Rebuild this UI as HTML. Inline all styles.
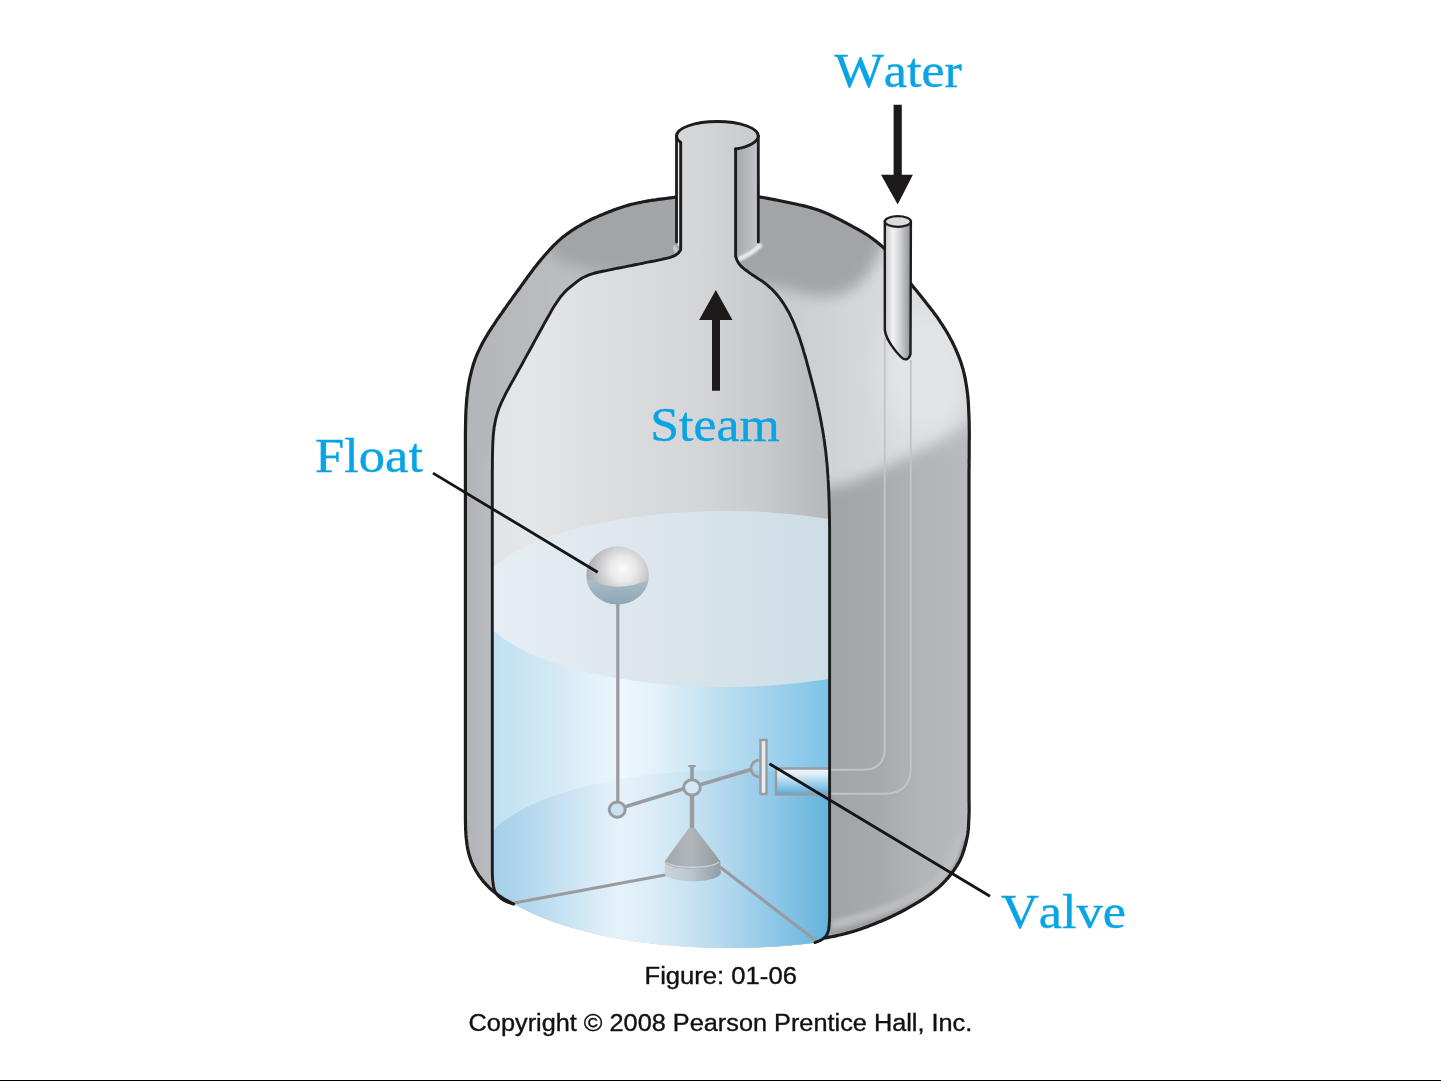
<!DOCTYPE html>
<html><head><meta charset="utf-8"><title>Figure 01-06</title>
<style>
html,body{margin:0;padding:0;background:#fff;}
body{width:1441px;height:1081px;overflow:hidden;position:relative;}
svg{position:absolute;left:0;top:0;will-change:transform;}
.lbl{font-family:"Liberation Serif",serif;font-kerning:none;fill:#08a4e4;stroke:#08a4e4;stroke-width:0.35px;}
.cap{font-family:"Liberation Sans",sans-serif;fill:#111;stroke:#111;stroke-width:0.35px;}
</style></head><body>
<svg width="1441" height="1081" viewBox="0 0 1441 1081">
<defs>
  <linearGradient id="gExt" x1="465" y1="0" x2="970" y2="0" gradientUnits="userSpaceOnUse">
    <stop offset="0" stop-color="#b2b3b7"/>
    <stop offset="0.04" stop-color="#b8b9bd"/>
    <stop offset="0.06" stop-color="#bcbdc0"/>
    <stop offset="0.5" stop-color="#b0b1b5"/>
    <stop offset="0.72" stop-color="#a2a3a7"/>
    <stop offset="0.82" stop-color="#a8a9ad"/>
    <stop offset="0.9" stop-color="#b3b4b8"/>
    <stop offset="1" stop-color="#b9babe"/>
  </linearGradient>
    <linearGradient id="gInt" x1="492" y1="0" x2="829" y2="0" gradientUnits="userSpaceOnUse">
    <stop offset="0" stop-color="#e2e3e5"/>
    <stop offset="0.1" stop-color="#e5e6e8"/>
    <stop offset="0.35" stop-color="#dcdddf"/>
    <stop offset="0.6" stop-color="#d5d6d8"/>
    <stop offset="0.8" stop-color="#c9cacd"/>
    <stop offset="0.9" stop-color="#c0c1c4"/>
    <stop offset="1" stop-color="#b6b7ba"/>
  </linearGradient>
  <linearGradient id="gSurf" x1="492" y1="0" x2="829" y2="0" gradientUnits="userSpaceOnUse">
    <stop offset="0" stop-color="#e6eef3"/>
    <stop offset="0.5" stop-color="#dbe5eb"/>
    <stop offset="1" stop-color="#cddde6"/>
  </linearGradient>
  <linearGradient id="gWater" x1="492" y1="0" x2="829" y2="0" gradientUnits="userSpaceOnUse">
    <stop offset="0" stop-color="#bfe0f2"/>
    <stop offset="0.2" stop-color="#d5eaf6"/>
    <stop offset="0.39" stop-color="#eef7fc"/>
    <stop offset="0.49" stop-color="#e2f1f9"/>
    <stop offset="0.7" stop-color="#b8dcf0"/>
    <stop offset="0.84" stop-color="#9ed1ec"/>
    <stop offset="1" stop-color="#7cc3e6"/>
  </linearGradient>
  <linearGradient id="gFloor" x1="492" y1="0" x2="829" y2="0" gradientUnits="userSpaceOnUse">
    <stop offset="0" stop-color="#a4cee9"/>
    <stop offset="0.15" stop-color="#bcdcef"/>
    <stop offset="0.38" stop-color="#e6f2fa"/>
    <stop offset="0.5" stop-color="#d7ebf6"/>
    <stop offset="0.7" stop-color="#b1d7ed"/>
    <stop offset="0.85" stop-color="#8bc6e6"/>
    <stop offset="1" stop-color="#63b3dc"/>
  </linearGradient>
  <linearGradient id="gPipeR" x1="735" y1="0" x2="759" y2="0" gradientUnits="userSpaceOnUse">
    <stop offset="0" stop-color="#a6a7ab"/>
    <stop offset="0.5" stop-color="#b5b6b9"/>
    <stop offset="1" stop-color="#c6c7ca"/>
  </linearGradient>
  <linearGradient id="gWP" x1="885" y1="0" x2="911" y2="0" gradientUnits="userSpaceOnUse">
    <stop offset="0" stop-color="#c4c5c8"/>
    <stop offset="0.3" stop-color="#f2f2f3"/>
    <stop offset="0.6" stop-color="#cfd0d2"/>
    <stop offset="1" stop-color="#8d8e92"/>
  </linearGradient>
  <radialGradient id="gBall" cx="623" cy="569" r="36" gradientUnits="userSpaceOnUse">
    <stop offset="0" stop-color="#fafafa"/>
    <stop offset="0.35" stop-color="#e9e9ea"/>
    <stop offset="1" stop-color="#a9aaad"/>
  </radialGradient>
  <linearGradient id="gBallB" x1="0" y1="580" x2="0" y2="604" gradientUnits="userSpaceOnUse">
    <stop offset="0" stop-color="#a9bdca"/>
    <stop offset="1" stop-color="#8fa6b4"/>
  </linearGradient>
  <linearGradient id="gCone" x1="665" y1="0" x2="720" y2="0" gradientUnits="userSpaceOnUse">
    <stop offset="0" stop-color="#a2a7ac"/>
    <stop offset="0.45" stop-color="#b1b6bb"/>
    <stop offset="1" stop-color="#959aa0"/>
  </linearGradient>
  <linearGradient id="gBase" x1="665" y1="0" x2="720" y2="0" gradientUnits="userSpaceOnUse">
    <stop offset="0" stop-color="#c9d4da"/>
    <stop offset="0.45" stop-color="#bcc7ce"/>
    <stop offset="1" stop-color="#929da5"/>
  </linearGradient>
  <linearGradient id="gStub" x1="0" y1="768" x2="0" y2="795" gradientUnits="userSpaceOnUse">
    <stop offset="0" stop-color="#f6fafd"/>
    <stop offset="0.25" stop-color="#d8ecf7"/>
    <stop offset="0.65" stop-color="#94c9e7"/>
    <stop offset="1" stop-color="#52a9d7"/>
  </linearGradient>
  <linearGradient id="gDomeL" x1="465" y1="0" x2="970" y2="0" gradientUnits="userSpaceOnUse">
    <stop offset="0" stop-color="#b4b5b8"/>
    <stop offset="0.15" stop-color="#babbbe"/>
    <stop offset="0.62" stop-color="#cacbce"/>
    <stop offset="0.75" stop-color="#d3d4d6"/>
    <stop offset="0.88" stop-color="#dcdddf"/>
    <stop offset="0.95" stop-color="#dbdcde"/>
    <stop offset="1" stop-color="#cdced1"/>
  </linearGradient>
  <filter id="fb6" x="-20%" y="-20%" width="140%" height="140%"><feGaussianBlur stdDeviation="7"/></filter>
  <filter id="fb8" x="-20%" y="-20%" width="140%" height="140%"><feGaussianBlur stdDeviation="7"/></filter>
  <filter id="fb12" x="-50%" y="-50%" width="200%" height="200%"><feGaussianBlur stdDeviation="14"/></filter>
  <filter id="fb9" x="-20%" y="-20%" width="140%" height="140%"><feGaussianBlur stdDeviation="10"/></filter>
  <filter id="fb1" x="-20%" y="-20%" width="140%" height="140%"><feGaussianBlur stdDeviation="1"/></filter>
  <filter id="fb2" x="-20%" y="-20%" width="140%" height="140%"><feGaussianBlur stdDeviation="2"/></filter>
  <clipPath id="cpWin"><path d="M680.7 142.4 L680.7 249.8 L679.7 251.2 L678.7 252.6 L677.5 253.8 L675.9 254.9 L674.1 255.9 L672.1 256.7 L670.3 257.3 L668.3 257.9 L666.2 258.4 L664.0 258.8 L661.7 259.4 L659.6 259.8 L657.4 260.3 L655.1 260.8 L652.7 261.3 L650.3 261.7 L647.9 262.2 L645.5 262.7 L643.2 263.2 L641.0 263.6 L638.7 264.1 L636.3 264.5 L634.0 265.0 L631.7 265.5 L629.3 265.9 L627.0 266.4 L624.7 266.9 L622.3 267.3 L620.0 267.8 L617.6 268.2 L615.3 268.7 L613.0 269.2 L610.7 269.6 L608.5 270.1 L606.2 270.6 L603.9 271.0 L601.6 271.5 L599.3 272.0 L597.1 272.5 L595.0 273.0 L593.0 273.6 L590.6 274.4 L588.4 275.2 L586.3 276.1 L584.2 277.0 L582.2 278.1 L580.2 279.3 L578.3 280.7 L576.4 282.1 L574.5 283.6 L572.6 285.1 L570.8 286.6 L569.0 288.1 L567.2 289.6 L565.5 291.3 L563.9 293.0 L562.5 294.6 L561.1 296.2 L559.8 297.9 L558.6 299.6 L557.3 301.5 L556.0 303.4 L554.8 305.3 L553.5 307.3 L552.3 309.3 L551.1 311.4 L549.9 313.6 L548.7 315.8 L547.4 318.0 L546.2 320.2 L545.0 322.3 L543.8 324.4 L542.7 326.5 L541.5 328.7 L540.3 330.8 L539.1 333.0 L537.9 335.2 L536.7 337.3 L535.6 339.4 L534.5 341.4 L533.4 343.5 L532.3 345.5 L531.2 347.5 L530.1 349.5 L529.0 351.4 L527.9 353.4 L526.8 355.4 L525.7 357.4 L524.6 359.4 L523.5 361.5 L522.4 363.5 L521.3 365.5 L520.2 367.5 L519.0 369.5 L517.9 371.5 L516.8 373.6 L515.7 375.6 L514.5 377.7 L513.3 379.9 L512.0 382.1 L510.8 384.3 L509.6 386.5 L508.4 388.7 L507.2 390.8 L506.1 392.9 L505.0 395.2 L503.9 397.4 L502.8 399.7 L501.7 401.9 L500.7 404.1 L499.8 406.3 L498.9 408.5 L498.2 410.6 L497.5 412.7 L496.9 414.8 L496.3 416.9 L495.8 419.0 L495.3 421.2 L494.9 423.3 L494.5 425.5 L494.1 427.6 L493.9 429.8 L493.6 432.0 L493.4 434.2 L493.2 436.4 L493.1 438.6 L492.9 441.0 L492.8 443.4 L492.7 445.9 L492.6 448.3 L492.6 450.8 L492.5 453.3 L492.5 455.8 L492.4 458.1 L492.4 460.5 L492.4 462.9 L492.4 465.3 L492.4 467.7 L492.3 470.1 L492.3 472.6 L492.3 475.0 L492.3 477.2 L492.3 479.4 L492.3 481.6 L492.3 483.9 L492.3 486.1 L492.3 488.3 L492.3 490.5 L492.3 492.8 L492.3 495.0 L492.3 497.2 L492.3 499.4 L492.3 501.7 L492.3 503.9 L492.3 506.1 L492.3 508.3 L492.3 510.6 L492.3 512.8 L492.3 515.0 L492.3 845.0 L492.3 847.2 L492.3 849.5 L492.3 851.7 L492.3 854.0 L492.3 856.2 L492.3 858.5 L492.3 860.7 L492.3 862.9 L492.3 865.0 L492.3 867.5 L492.3 870.1 L492.3 872.6 L492.4 875.0 L492.5 877.4 L492.6 879.7 L492.9 881.9 L493.2 884.2 L493.5 886.3 L494.0 888.4 L494.6 890.4 L495.3 892.1 L496.4 893.8 L497.6 895.3 L498.9 896.7 L500.4 897.9 L501.9 899.1 L503.5 900.1 L505.2 901.0 L507.0 901.8 L509.2 902.7 L511.5 903.4 L513.8 904.1 L526.3 910.6 L538.9 916.4 L551.4 921.3 L564.0 925.5 L576.5 929.3 L589.1 932.5 L601.6 935.4 L614.2 937.9 L626.8 940.1 L639.3 941.9 L651.9 943.5 L664.4 944.9 L676.9 946.0 L689.5 946.8 L702.0 947.4 L714.6 947.8 L727.1 948.0 L739.7 947.9 L752.2 947.6 L764.8 947.1 L777.3 946.4 L789.9 945.4 L802.5 944.2 L815.0 942.7 L816.8 941.9 L818.6 941.2 L820.4 940.4 L822.0 939.5 L823.6 938.4 L825.0 937.1 L826.2 935.6 L827.2 934.0 L828.0 932.1 L828.6 930.1 L828.9 927.8 L829.1 925.3 L829.3 922.6 L829.5 920.5 L829.5 918.3 L829.6 915.9 L829.6 913.5 L829.6 911.0 L829.6 908.5 L829.6 906.0 L829.6 903.9 L829.6 901.7 L829.6 899.5 L829.6 897.2 L829.6 895.0 L829.6 892.7 L829.6 890.5 L829.6 888.2 L829.6 886.0 L829.6 560.0 L829.6 557.8 L829.6 555.6 L829.6 553.4 L829.6 551.2 L829.6 549.0 L829.6 546.8 L829.6 544.6 L829.6 542.3 L829.6 540.0 L829.6 537.7 L829.6 535.4 L829.6 533.1 L829.6 530.7 L829.6 528.3 L829.5 525.9 L829.5 523.5 L829.5 521.1 L829.5 518.6 L829.4 516.1 L829.4 513.8 L829.3 511.4 L829.3 508.9 L829.2 506.5 L829.2 504.0 L829.1 501.5 L829.0 499.1 L828.9 496.6 L828.9 494.1 L828.8 491.6 L828.6 489.1 L828.5 486.6 L828.4 484.2 L828.3 481.8 L828.1 479.4 L828.0 477.0 L827.8 474.5 L827.6 472.1 L827.5 469.7 L827.3 467.3 L827.1 464.9 L826.9 462.5 L826.6 460.1 L826.4 457.8 L826.1 455.3 L825.9 452.9 L825.6 450.4 L825.3 448.0 L824.9 445.6 L824.6 443.2 L824.3 440.7 L823.9 438.3 L823.6 435.9 L823.2 433.5 L822.8 431.1 L822.4 428.7 L821.9 426.2 L821.5 423.8 L821.0 421.4 L820.6 418.9 L820.1 416.5 L819.6 414.1 L819.1 411.7 L818.6 409.2 L818.0 406.8 L817.5 404.4 L817.0 402.0 L816.4 399.6 L815.9 397.3 L815.3 394.9 L814.7 392.5 L814.1 390.1 L813.5 387.7 L812.9 385.4 L812.3 383.0 L811.7 380.7 L811.1 378.3 L810.5 376.1 L809.9 373.8 L809.3 371.6 L808.7 369.3 L808.1 367.1 L807.5 364.8 L806.9 362.6 L806.3 360.4 L805.7 358.2 L805.1 356.0 L804.4 353.9 L803.7 351.6 L803.1 349.3 L802.4 347.1 L801.7 344.8 L801.0 342.6 L800.3 340.4 L799.6 338.2 L798.8 336.0 L798.0 333.8 L797.2 331.6 L796.3 329.3 L795.4 327.1 L794.5 324.8 L793.6 322.5 L792.6 320.3 L791.6 318.1 L790.5 315.9 L789.5 313.7 L788.3 311.7 L787.2 309.7 L786.1 307.7 L784.9 305.7 L783.7 303.8 L782.4 301.9 L781.2 300.1 L779.9 298.3 L778.5 296.6 L777.2 295.0 L775.7 293.2 L774.1 291.5 L772.5 289.8 L770.9 288.3 L769.2 286.8 L767.6 285.4 L766.0 284.0 L764.1 282.6 L762.3 281.3 L760.4 280.1 L758.6 278.9 L756.8 277.8 L754.7 276.3 L752.6 275.0 L750.6 273.6 L748.6 272.2 L746.7 270.8 L744.9 269.5 L743.2 268.1 L741.6 266.6 L740.1 265.0 L738.7 263.3 L737.6 261.6 L736.8 259.8 L736.2 258.0 L735.6 256.2 L735.6 149.0 A40.9 14.5 0 0 1 680.7 142.4 Z"/></clipPath>
  <clipPath id="cpOuter"><path d="M675.5 197.2 L673.0 197.5 L670.5 197.8 L668.0 198.2 L665.5 198.5 L663.0 198.8 L660.5 199.1 L658.0 199.4 L655.5 199.8 L653.1 200.1 L650.7 200.5 L648.4 200.9 L645.9 201.3 L643.4 201.8 L641.0 202.3 L638.6 202.7 L636.3 203.2 L634.0 203.8 L631.6 204.3 L629.3 204.9 L627.0 205.6 L624.7 206.2 L622.5 206.9 L620.2 207.7 L618.0 208.4 L615.8 209.2 L613.6 210.0 L611.4 210.9 L609.1 211.8 L606.8 212.7 L604.8 213.5 L602.7 214.4 L600.6 215.2 L598.5 216.1 L596.4 217.1 L594.3 218.0 L592.1 219.0 L590.0 220.0 L587.9 221.1 L585.9 222.2 L583.8 223.3 L581.8 224.4 L579.9 225.6 L577.9 226.7 L576.0 227.9 L574.0 229.2 L572.1 230.4 L570.1 231.7 L568.2 233.1 L566.3 234.5 L564.5 235.9 L562.6 237.3 L560.8 238.9 L559.1 240.4 L557.4 241.9 L555.7 243.6 L554.0 245.2 L552.3 246.9 L550.7 248.7 L549.1 250.4 L547.5 252.2 L545.9 254.0 L544.3 255.8 L542.7 257.7 L541.1 259.5 L539.6 261.4 L538.0 263.2 L536.5 265.2 L534.9 267.2 L533.4 269.1 L531.9 271.2 L530.4 273.2 L528.9 275.2 L527.4 277.3 L526.0 279.3 L524.5 281.3 L523.1 283.3 L521.7 285.2 L520.3 287.2 L518.8 289.2 L517.3 291.3 L515.8 293.3 L514.4 295.3 L512.9 297.3 L511.5 299.3 L510.1 301.3 L508.7 303.2 L507.3 305.2 L506.0 307.1 L504.6 309.0 L503.2 311.0 L501.8 313.1 L500.4 315.0 L499.0 317.0 L497.6 318.9 L496.3 320.9 L495.0 322.8 L493.7 324.8 L492.4 326.7 L491.1 328.8 L489.7 330.9 L488.4 332.9 L487.2 335.0 L485.9 337.1 L484.7 339.1 L483.5 341.2 L482.4 343.3 L481.4 345.3 L480.4 347.3 L479.4 349.4 L478.4 351.4 L477.5 353.4 L476.6 355.5 L475.8 357.5 L475.0 359.6 L474.2 361.9 L473.4 364.3 L472.7 366.7 L472.0 369.1 L471.4 371.4 L470.8 373.9 L470.2 376.3 L469.7 378.4 L469.3 380.6 L468.9 382.7 L468.5 384.9 L468.2 387.1 L467.9 389.3 L467.6 391.5 L467.3 393.7 L467.1 395.9 L466.8 398.2 L466.6 400.4 L466.5 402.6 L466.3 404.9 L466.2 407.1 L466.0 409.4 L465.9 411.7 L465.8 414.0 L465.7 416.3 L465.7 418.6 L465.6 421.0 L465.6 423.3 L465.5 425.7 L465.5 428.0 L465.5 430.4 L465.4 432.8 L465.4 435.2 L465.4 437.7 L465.4 440.1 L465.4 442.6 L465.4 445.1 L465.4 447.5 L465.4 450.0 L465.4 452.2 L465.4 454.4 L465.4 456.7 L465.4 458.9 L465.4 461.1 L465.4 463.3 L465.4 465.6 L465.4 467.8 L465.4 470.0 L465.4 472.2 L465.4 474.4 L465.4 476.7 L465.4 478.9 L465.4 481.1 L465.4 483.3 L465.4 485.6 L465.4 487.8 L465.4 490.0 L465.4 795.0 L465.4 797.5 L465.4 800.0 L465.4 802.5 L465.4 805.0 L465.4 807.5 L465.4 810.0 L465.4 812.4 L465.4 814.9 L465.4 817.4 L465.4 819.8 L465.5 822.3 L465.5 824.7 L465.6 827.2 L465.6 829.6 L465.8 832.0 L465.9 834.4 L466.1 836.6 L466.3 838.9 L466.6 841.1 L466.8 843.3 L467.1 845.5 L467.5 847.7 L467.9 849.8 L468.4 851.9 L468.9 854.1 L469.6 856.3 L470.3 858.4 L471.0 860.6 L471.8 862.6 L472.7 864.6 L473.6 866.6 L474.8 868.8 L476.0 871.0 L477.3 873.0 L478.6 875.1 L480.0 877.1 L481.5 879.0 L483.0 880.9 L484.5 882.7 L486.1 884.4 L487.8 886.1 L489.4 887.8 L491.1 889.4 L492.8 890.8 L494.5 892.3 L496.3 893.6 L498.0 894.9 L499.8 896.2 L501.6 897.4 L503.4 898.5 L505.2 899.6 L507.1 900.6 L508.9 901.6 L510.8 902.6 L512.6 903.6 L525.4 910.1 L538.2 916.1 L551.0 921.1 L563.8 925.5 L576.6 929.3 L589.5 932.6 L602.3 935.5 L615.1 938.0 L627.9 940.2 L640.7 942.1 L653.5 943.7 L666.3 945.1 L679.1 946.1 L691.9 947.0 L704.7 947.5 L717.5 947.9 L730.3 948.0 L743.1 947.9 L756.0 947.5 L768.8 946.9 L781.6 946.1 L794.4 945.0 L807.2 943.7 L820.0 942.0 L827.2 937.6 L829.4 937.1 L831.6 936.7 L833.8 936.3 L836.1 935.9 L838.4 935.3 L840.9 934.8 L842.9 934.2 L845.0 933.7 L847.2 933.1 L849.3 932.5 L851.6 931.9 L853.9 931.2 L856.2 930.5 L858.5 929.7 L860.9 928.9 L863.4 928.1 L865.8 927.2 L867.9 926.4 L870.0 925.6 L872.1 924.8 L874.3 923.9 L876.5 923.0 L878.7 922.1 L881.0 921.2 L883.3 920.2 L885.6 919.2 L887.9 918.2 L890.1 917.2 L892.4 916.1 L894.7 915.0 L896.9 913.9 L899.2 912.8 L901.4 911.7 L903.5 910.5 L905.7 909.3 L907.8 908.1 L910.0 906.9 L912.2 905.7 L914.4 904.4 L916.5 903.1 L918.7 901.8 L920.8 900.5 L923.0 899.2 L925.1 897.8 L927.1 896.4 L929.1 895.0 L931.1 893.6 L933.0 892.1 L934.9 890.6 L936.7 889.1 L938.4 887.6 L940.3 885.8 L942.2 884.0 L944.0 882.2 L945.8 880.3 L947.5 878.4 L949.1 876.5 L950.7 874.5 L952.2 872.5 L953.7 870.5 L955.1 868.5 L956.4 866.5 L957.6 864.4 L958.8 862.4 L960.0 860.2 L961.0 857.9 L962.0 855.6 L962.8 853.3 L963.6 850.9 L964.4 848.6 L965.0 846.2 L965.7 843.9 L966.2 841.6 L966.7 839.3 L967.2 837.0 L967.7 834.5 L968.0 832.0 L968.3 829.5 L968.5 827.1 L968.6 824.6 L968.7 822.2 L968.8 819.7 L968.9 817.3 L969.0 814.9 L969.1 812.4 L969.1 809.9 L969.1 807.4 L969.1 804.9 L969.1 802.4 L969.0 800.0 L969.0 797.5 L969.0 795.0 L969.0 510.0 L969.0 507.8 L969.0 505.6 L969.0 503.3 L969.0 501.1 L969.0 498.9 L969.0 496.7 L969.0 494.4 L969.0 492.2 L969.0 490.0 L969.0 487.8 L969.0 485.6 L969.0 483.4 L969.0 481.2 L969.0 479.0 L969.0 476.8 L969.0 474.5 L969.0 472.3 L969.0 470.0 L969.1 467.8 L969.1 465.6 L969.1 463.4 L969.1 461.2 L969.1 458.9 L969.2 456.7 L969.2 454.4 L969.2 452.1 L969.2 449.8 L969.2 447.4 L969.2 445.2 L969.2 443.0 L969.2 440.7 L969.3 438.4 L969.3 436.1 L969.3 433.8 L969.3 431.4 L969.2 429.1 L969.2 426.8 L969.2 424.4 L969.1 422.1 L969.0 419.8 L969.0 417.4 L968.9 415.0 L968.8 412.6 L968.7 410.2 L968.6 407.8 L968.5 405.4 L968.3 403.0 L968.2 400.7 L968.0 398.3 L967.8 396.0 L967.5 393.6 L967.2 391.4 L966.9 389.0 L966.6 386.7 L966.2 384.4 L965.8 382.1 L965.4 379.8 L965.0 377.6 L964.5 375.3 L964.0 373.1 L963.4 370.9 L962.9 368.7 L962.2 366.5 L961.5 364.1 L960.7 361.8 L959.9 359.4 L959.0 357.1 L958.1 354.8 L957.1 352.5 L956.1 350.2 L955.1 347.9 L954.0 345.6 L953.0 343.4 L951.9 341.3 L950.8 339.2 L949.6 337.1 L948.5 335.0 L947.3 332.9 L946.0 330.8 L944.8 328.8 L943.5 326.8 L942.2 324.7 L940.9 322.8 L939.6 320.8 L938.2 318.7 L936.8 316.7 L935.3 314.7 L933.8 312.7 L932.4 310.7 L930.8 308.8 L929.3 306.8 L927.8 304.9 L926.3 303.0 L924.9 301.1 L923.3 299.2 L921.8 297.3 L920.3 295.4 L918.7 293.5 L917.2 291.6 L915.7 289.8 L914.1 287.9 L912.6 286.0 L911.1 284.1 L909.7 282.1 L908.2 280.1 L906.7 278.1 L905.3 276.0 L903.8 274.0 L902.4 272.0 L900.9 269.9 L899.5 267.9 L898.0 265.9 L896.5 264.0 L895.1 262.0 L893.7 260.0 L892.2 258.1 L890.8 256.1 L889.3 254.2 L887.8 252.4 L886.2 250.6 L884.6 248.8 L882.9 247.2 L881.3 245.7 L879.6 244.2 L877.8 242.7 L876.0 241.3 L874.2 239.9 L872.4 238.5 L870.5 237.2 L868.5 235.8 L866.6 234.5 L864.6 233.3 L862.6 232.0 L860.5 230.8 L858.4 229.6 L856.2 228.4 L854.1 227.3 L852.0 226.1 L849.9 225.0 L847.8 223.9 L845.7 222.7 L843.5 221.6 L841.4 220.4 L839.2 219.3 L837.1 218.2 L834.9 217.2 L832.8 216.2 L830.8 215.2 L828.8 214.3 L826.7 213.4 L824.7 212.5 L822.7 211.8 L820.8 211.0 L818.8 210.3 L816.8 209.6 L814.8 208.9 L812.6 208.2 L810.4 207.6 L808.2 207.0 L805.9 206.4 L803.7 205.9 L801.3 205.3 L799.0 204.8 L796.7 204.2 L794.4 203.7 L792.0 203.2 L789.6 202.7 L787.2 202.2 L784.8 201.7 L782.4 201.2 L779.9 200.7 L777.7 200.3 L775.5 199.8 L773.2 199.4 L771.0 199.0 L768.7 198.6 L766.5 198.2 L764.2 197.8 L762.0 197.4 L759.7 197.0 L758.3 136 A40.9 14.5 0 0 0 676.5 136 L676.5 197 Z"/></clipPath>
</defs>

<!-- exterior -->
<path d="M675.5 197.2 L673.0 197.5 L670.5 197.8 L668.0 198.2 L665.5 198.5 L663.0 198.8 L660.5 199.1 L658.0 199.4 L655.5 199.8 L653.1 200.1 L650.7 200.5 L648.4 200.9 L645.9 201.3 L643.4 201.8 L641.0 202.3 L638.6 202.7 L636.3 203.2 L634.0 203.8 L631.6 204.3 L629.3 204.9 L627.0 205.6 L624.7 206.2 L622.5 206.9 L620.2 207.7 L618.0 208.4 L615.8 209.2 L613.6 210.0 L611.4 210.9 L609.1 211.8 L606.8 212.7 L604.8 213.5 L602.7 214.4 L600.6 215.2 L598.5 216.1 L596.4 217.1 L594.3 218.0 L592.1 219.0 L590.0 220.0 L587.9 221.1 L585.9 222.2 L583.8 223.3 L581.8 224.4 L579.9 225.6 L577.9 226.7 L576.0 227.9 L574.0 229.2 L572.1 230.4 L570.1 231.7 L568.2 233.1 L566.3 234.5 L564.5 235.9 L562.6 237.3 L560.8 238.9 L559.1 240.4 L557.4 241.9 L555.7 243.6 L554.0 245.2 L552.3 246.9 L550.7 248.7 L549.1 250.4 L547.5 252.2 L545.9 254.0 L544.3 255.8 L542.7 257.7 L541.1 259.5 L539.6 261.4 L538.0 263.2 L536.5 265.2 L534.9 267.2 L533.4 269.1 L531.9 271.2 L530.4 273.2 L528.9 275.2 L527.4 277.3 L526.0 279.3 L524.5 281.3 L523.1 283.3 L521.7 285.2 L520.3 287.2 L518.8 289.2 L517.3 291.3 L515.8 293.3 L514.4 295.3 L512.9 297.3 L511.5 299.3 L510.1 301.3 L508.7 303.2 L507.3 305.2 L506.0 307.1 L504.6 309.0 L503.2 311.0 L501.8 313.1 L500.4 315.0 L499.0 317.0 L497.6 318.9 L496.3 320.9 L495.0 322.8 L493.7 324.8 L492.4 326.7 L491.1 328.8 L489.7 330.9 L488.4 332.9 L487.2 335.0 L485.9 337.1 L484.7 339.1 L483.5 341.2 L482.4 343.3 L481.4 345.3 L480.4 347.3 L479.4 349.4 L478.4 351.4 L477.5 353.4 L476.6 355.5 L475.8 357.5 L475.0 359.6 L474.2 361.9 L473.4 364.3 L472.7 366.7 L472.0 369.1 L471.4 371.4 L470.8 373.9 L470.2 376.3 L469.7 378.4 L469.3 380.6 L468.9 382.7 L468.5 384.9 L468.2 387.1 L467.9 389.3 L467.6 391.5 L467.3 393.7 L467.1 395.9 L466.8 398.2 L466.6 400.4 L466.5 402.6 L466.3 404.9 L466.2 407.1 L466.0 409.4 L465.9 411.7 L465.8 414.0 L465.7 416.3 L465.7 418.6 L465.6 421.0 L465.6 423.3 L465.5 425.7 L465.5 428.0 L465.5 430.4 L465.4 432.8 L465.4 435.2 L465.4 437.7 L465.4 440.1 L465.4 442.6 L465.4 445.1 L465.4 447.5 L465.4 450.0 L465.4 452.2 L465.4 454.4 L465.4 456.7 L465.4 458.9 L465.4 461.1 L465.4 463.3 L465.4 465.6 L465.4 467.8 L465.4 470.0 L465.4 472.2 L465.4 474.4 L465.4 476.7 L465.4 478.9 L465.4 481.1 L465.4 483.3 L465.4 485.6 L465.4 487.8 L465.4 490.0 L465.4 795.0 L465.4 797.5 L465.4 800.0 L465.4 802.5 L465.4 805.0 L465.4 807.5 L465.4 810.0 L465.4 812.4 L465.4 814.9 L465.4 817.4 L465.4 819.8 L465.5 822.3 L465.5 824.7 L465.6 827.2 L465.6 829.6 L465.8 832.0 L465.9 834.4 L466.1 836.6 L466.3 838.9 L466.6 841.1 L466.8 843.3 L467.1 845.5 L467.5 847.7 L467.9 849.8 L468.4 851.9 L468.9 854.1 L469.6 856.3 L470.3 858.4 L471.0 860.6 L471.8 862.6 L472.7 864.6 L473.6 866.6 L474.8 868.8 L476.0 871.0 L477.3 873.0 L478.6 875.1 L480.0 877.1 L481.5 879.0 L483.0 880.9 L484.5 882.7 L486.1 884.4 L487.8 886.1 L489.4 887.8 L491.1 889.4 L492.8 890.8 L494.5 892.3 L496.3 893.6 L498.0 894.9 L499.8 896.2 L501.6 897.4 L503.4 898.5 L505.2 899.6 L507.1 900.6 L508.9 901.6 L510.8 902.6 L512.6 903.6 L525.4 910.1 L538.2 916.1 L551.0 921.1 L563.8 925.5 L576.6 929.3 L589.5 932.6 L602.3 935.5 L615.1 938.0 L627.9 940.2 L640.7 942.1 L653.5 943.7 L666.3 945.1 L679.1 946.1 L691.9 947.0 L704.7 947.5 L717.5 947.9 L730.3 948.0 L743.1 947.9 L756.0 947.5 L768.8 946.9 L781.6 946.1 L794.4 945.0 L807.2 943.7 L820.0 942.0 L827.2 937.6 L829.4 937.1 L831.6 936.7 L833.8 936.3 L836.1 935.9 L838.4 935.3 L840.9 934.8 L842.9 934.2 L845.0 933.7 L847.2 933.1 L849.3 932.5 L851.6 931.9 L853.9 931.2 L856.2 930.5 L858.5 929.7 L860.9 928.9 L863.4 928.1 L865.8 927.2 L867.9 926.4 L870.0 925.6 L872.1 924.8 L874.3 923.9 L876.5 923.0 L878.7 922.1 L881.0 921.2 L883.3 920.2 L885.6 919.2 L887.9 918.2 L890.1 917.2 L892.4 916.1 L894.7 915.0 L896.9 913.9 L899.2 912.8 L901.4 911.7 L903.5 910.5 L905.7 909.3 L907.8 908.1 L910.0 906.9 L912.2 905.7 L914.4 904.4 L916.5 903.1 L918.7 901.8 L920.8 900.5 L923.0 899.2 L925.1 897.8 L927.1 896.4 L929.1 895.0 L931.1 893.6 L933.0 892.1 L934.9 890.6 L936.7 889.1 L938.4 887.6 L940.3 885.8 L942.2 884.0 L944.0 882.2 L945.8 880.3 L947.5 878.4 L949.1 876.5 L950.7 874.5 L952.2 872.5 L953.7 870.5 L955.1 868.5 L956.4 866.5 L957.6 864.4 L958.8 862.4 L960.0 860.2 L961.0 857.9 L962.0 855.6 L962.8 853.3 L963.6 850.9 L964.4 848.6 L965.0 846.2 L965.7 843.9 L966.2 841.6 L966.7 839.3 L967.2 837.0 L967.7 834.5 L968.0 832.0 L968.3 829.5 L968.5 827.1 L968.6 824.6 L968.7 822.2 L968.8 819.7 L968.9 817.3 L969.0 814.9 L969.1 812.4 L969.1 809.9 L969.1 807.4 L969.1 804.9 L969.1 802.4 L969.0 800.0 L969.0 797.5 L969.0 795.0 L969.0 510.0 L969.0 507.8 L969.0 505.6 L969.0 503.3 L969.0 501.1 L969.0 498.9 L969.0 496.7 L969.0 494.4 L969.0 492.2 L969.0 490.0 L969.0 487.8 L969.0 485.6 L969.0 483.4 L969.0 481.2 L969.0 479.0 L969.0 476.8 L969.0 474.5 L969.0 472.3 L969.0 470.0 L969.1 467.8 L969.1 465.6 L969.1 463.4 L969.1 461.2 L969.1 458.9 L969.2 456.7 L969.2 454.4 L969.2 452.1 L969.2 449.8 L969.2 447.4 L969.2 445.2 L969.2 443.0 L969.2 440.7 L969.3 438.4 L969.3 436.1 L969.3 433.8 L969.3 431.4 L969.2 429.1 L969.2 426.8 L969.2 424.4 L969.1 422.1 L969.0 419.8 L969.0 417.4 L968.9 415.0 L968.8 412.6 L968.7 410.2 L968.6 407.8 L968.5 405.4 L968.3 403.0 L968.2 400.7 L968.0 398.3 L967.8 396.0 L967.5 393.6 L967.2 391.4 L966.9 389.0 L966.6 386.7 L966.2 384.4 L965.8 382.1 L965.4 379.8 L965.0 377.6 L964.5 375.3 L964.0 373.1 L963.4 370.9 L962.9 368.7 L962.2 366.5 L961.5 364.1 L960.7 361.8 L959.9 359.4 L959.0 357.1 L958.1 354.8 L957.1 352.5 L956.1 350.2 L955.1 347.9 L954.0 345.6 L953.0 343.4 L951.9 341.3 L950.8 339.2 L949.6 337.1 L948.5 335.0 L947.3 332.9 L946.0 330.8 L944.8 328.8 L943.5 326.8 L942.2 324.7 L940.9 322.8 L939.6 320.8 L938.2 318.7 L936.8 316.7 L935.3 314.7 L933.8 312.7 L932.4 310.7 L930.8 308.8 L929.3 306.8 L927.8 304.9 L926.3 303.0 L924.9 301.1 L923.3 299.2 L921.8 297.3 L920.3 295.4 L918.7 293.5 L917.2 291.6 L915.7 289.8 L914.1 287.9 L912.6 286.0 L911.1 284.1 L909.7 282.1 L908.2 280.1 L906.7 278.1 L905.3 276.0 L903.8 274.0 L902.4 272.0 L900.9 269.9 L899.5 267.9 L898.0 265.9 L896.5 264.0 L895.1 262.0 L893.7 260.0 L892.2 258.1 L890.8 256.1 L889.3 254.2 L887.8 252.4 L886.2 250.6 L884.6 248.8 L882.9 247.2 L881.3 245.7 L879.6 244.2 L877.8 242.7 L876.0 241.3 L874.2 239.9 L872.4 238.5 L870.5 237.2 L868.5 235.8 L866.6 234.5 L864.6 233.3 L862.6 232.0 L860.5 230.8 L858.4 229.6 L856.2 228.4 L854.1 227.3 L852.0 226.1 L849.9 225.0 L847.8 223.9 L845.7 222.7 L843.5 221.6 L841.4 220.4 L839.2 219.3 L837.1 218.2 L834.9 217.2 L832.8 216.2 L830.8 215.2 L828.8 214.3 L826.7 213.4 L824.7 212.5 L822.7 211.8 L820.8 211.0 L818.8 210.3 L816.8 209.6 L814.8 208.9 L812.6 208.2 L810.4 207.6 L808.2 207.0 L805.9 206.4 L803.7 205.9 L801.3 205.3 L799.0 204.8 L796.7 204.2 L794.4 203.7 L792.0 203.2 L789.6 202.7 L787.2 202.2 L784.8 201.7 L782.4 201.2 L779.9 200.7 L777.7 200.3 L775.5 199.8 L773.2 199.4 L771.0 199.0 L768.7 198.6 L766.5 198.2 L764.2 197.8 L762.0 197.4 L759.7 197.0 L758.3 136 A40.9 14.5 0 0 0 676.5 136 L676.5 197 Z" fill="url(#gExt)"/>
<g clip-path="url(#cpOuter)">
  <path d="M440 110 L1000 110 L1000 402 C 950 432, 880 478, 830 488 C 700 505, 560 480, 440 440 Z" fill="url(#gDomeL)" filter="url(#fb6)"/>
  <ellipse cx="928" cy="372" rx="45" ry="62" fill="#e3e4e6" filter="url(#fb12)"/>
  <path d="M520 190 L 548 250 C 556 262, 570 266, 590 270 L 700 285 L 775 286 C 800 294, 815 297, 830 296 C 848 294, 860 286, 870 270 C 880 255, 886 240, 884 228 L 860 200 L 760 188 L 640 188 Z" fill="#a3a4a8" filter="url(#fb8)"/>
  <path d="M832 925 C 860 918, 900 906, 928 889 C 945 877, 955 860, 960 835" fill="none" stroke="#bcbdc1" stroke-width="8" filter="url(#fb2)"/>
  <path d="M832 935 C 862 927, 903 913, 936 892 C 952 877, 961 860, 965 840" fill="none" stroke="#9d9ea2" stroke-width="4" filter="url(#fb1)"/>
</g>

<!-- interior window -->
<rect x="681" y="132" width="54" height="24" fill="url(#gInt)"/>
<path d="M680.7 142.4 L680.7 249.8 L679.7 251.2 L678.7 252.6 L677.5 253.8 L675.9 254.9 L674.1 255.9 L672.1 256.7 L670.3 257.3 L668.3 257.9 L666.2 258.4 L664.0 258.8 L661.7 259.4 L659.6 259.8 L657.4 260.3 L655.1 260.8 L652.7 261.3 L650.3 261.7 L647.9 262.2 L645.5 262.7 L643.2 263.2 L641.0 263.6 L638.7 264.1 L636.3 264.5 L634.0 265.0 L631.7 265.5 L629.3 265.9 L627.0 266.4 L624.7 266.9 L622.3 267.3 L620.0 267.8 L617.6 268.2 L615.3 268.7 L613.0 269.2 L610.7 269.6 L608.5 270.1 L606.2 270.6 L603.9 271.0 L601.6 271.5 L599.3 272.0 L597.1 272.5 L595.0 273.0 L593.0 273.6 L590.6 274.4 L588.4 275.2 L586.3 276.1 L584.2 277.0 L582.2 278.1 L580.2 279.3 L578.3 280.7 L576.4 282.1 L574.5 283.6 L572.6 285.1 L570.8 286.6 L569.0 288.1 L567.2 289.6 L565.5 291.3 L563.9 293.0 L562.5 294.6 L561.1 296.2 L559.8 297.9 L558.6 299.6 L557.3 301.5 L556.0 303.4 L554.8 305.3 L553.5 307.3 L552.3 309.3 L551.1 311.4 L549.9 313.6 L548.7 315.8 L547.4 318.0 L546.2 320.2 L545.0 322.3 L543.8 324.4 L542.7 326.5 L541.5 328.7 L540.3 330.8 L539.1 333.0 L537.9 335.2 L536.7 337.3 L535.6 339.4 L534.5 341.4 L533.4 343.5 L532.3 345.5 L531.2 347.5 L530.1 349.5 L529.0 351.4 L527.9 353.4 L526.8 355.4 L525.7 357.4 L524.6 359.4 L523.5 361.5 L522.4 363.5 L521.3 365.5 L520.2 367.5 L519.0 369.5 L517.9 371.5 L516.8 373.6 L515.7 375.6 L514.5 377.7 L513.3 379.9 L512.0 382.1 L510.8 384.3 L509.6 386.5 L508.4 388.7 L507.2 390.8 L506.1 392.9 L505.0 395.2 L503.9 397.4 L502.8 399.7 L501.7 401.9 L500.7 404.1 L499.8 406.3 L498.9 408.5 L498.2 410.6 L497.5 412.7 L496.9 414.8 L496.3 416.9 L495.8 419.0 L495.3 421.2 L494.9 423.3 L494.5 425.5 L494.1 427.6 L493.9 429.8 L493.6 432.0 L493.4 434.2 L493.2 436.4 L493.1 438.6 L492.9 441.0 L492.8 443.4 L492.7 445.9 L492.6 448.3 L492.6 450.8 L492.5 453.3 L492.5 455.8 L492.4 458.1 L492.4 460.5 L492.4 462.9 L492.4 465.3 L492.4 467.7 L492.3 470.1 L492.3 472.6 L492.3 475.0 L492.3 477.2 L492.3 479.4 L492.3 481.6 L492.3 483.9 L492.3 486.1 L492.3 488.3 L492.3 490.5 L492.3 492.8 L492.3 495.0 L492.3 497.2 L492.3 499.4 L492.3 501.7 L492.3 503.9 L492.3 506.1 L492.3 508.3 L492.3 510.6 L492.3 512.8 L492.3 515.0 L492.3 845.0 L492.3 847.2 L492.3 849.5 L492.3 851.7 L492.3 854.0 L492.3 856.2 L492.3 858.5 L492.3 860.7 L492.3 862.9 L492.3 865.0 L492.3 867.5 L492.3 870.1 L492.3 872.6 L492.4 875.0 L492.5 877.4 L492.6 879.7 L492.9 881.9 L493.2 884.2 L493.5 886.3 L494.0 888.4 L494.6 890.4 L495.3 892.1 L496.4 893.8 L497.6 895.3 L498.9 896.7 L500.4 897.9 L501.9 899.1 L503.5 900.1 L505.2 901.0 L507.0 901.8 L509.2 902.7 L511.5 903.4 L513.8 904.1 L526.3 910.6 L538.9 916.4 L551.4 921.3 L564.0 925.5 L576.5 929.3 L589.1 932.5 L601.6 935.4 L614.2 937.9 L626.8 940.1 L639.3 941.9 L651.9 943.5 L664.4 944.9 L676.9 946.0 L689.5 946.8 L702.0 947.4 L714.6 947.8 L727.1 948.0 L739.7 947.9 L752.2 947.6 L764.8 947.1 L777.3 946.4 L789.9 945.4 L802.5 944.2 L815.0 942.7 L816.8 941.9 L818.6 941.2 L820.4 940.4 L822.0 939.5 L823.6 938.4 L825.0 937.1 L826.2 935.6 L827.2 934.0 L828.0 932.1 L828.6 930.1 L828.9 927.8 L829.1 925.3 L829.3 922.6 L829.5 920.5 L829.5 918.3 L829.6 915.9 L829.6 913.5 L829.6 911.0 L829.6 908.5 L829.6 906.0 L829.6 903.9 L829.6 901.7 L829.6 899.5 L829.6 897.2 L829.6 895.0 L829.6 892.7 L829.6 890.5 L829.6 888.2 L829.6 886.0 L829.6 560.0 L829.6 557.8 L829.6 555.6 L829.6 553.4 L829.6 551.2 L829.6 549.0 L829.6 546.8 L829.6 544.6 L829.6 542.3 L829.6 540.0 L829.6 537.7 L829.6 535.4 L829.6 533.1 L829.6 530.7 L829.6 528.3 L829.5 525.9 L829.5 523.5 L829.5 521.1 L829.5 518.6 L829.4 516.1 L829.4 513.8 L829.3 511.4 L829.3 508.9 L829.2 506.5 L829.2 504.0 L829.1 501.5 L829.0 499.1 L828.9 496.6 L828.9 494.1 L828.8 491.6 L828.6 489.1 L828.5 486.6 L828.4 484.2 L828.3 481.8 L828.1 479.4 L828.0 477.0 L827.8 474.5 L827.6 472.1 L827.5 469.7 L827.3 467.3 L827.1 464.9 L826.9 462.5 L826.6 460.1 L826.4 457.8 L826.1 455.3 L825.9 452.9 L825.6 450.4 L825.3 448.0 L824.9 445.6 L824.6 443.2 L824.3 440.7 L823.9 438.3 L823.6 435.9 L823.2 433.5 L822.8 431.1 L822.4 428.7 L821.9 426.2 L821.5 423.8 L821.0 421.4 L820.6 418.9 L820.1 416.5 L819.6 414.1 L819.1 411.7 L818.6 409.2 L818.0 406.8 L817.5 404.4 L817.0 402.0 L816.4 399.6 L815.9 397.3 L815.3 394.9 L814.7 392.5 L814.1 390.1 L813.5 387.7 L812.9 385.4 L812.3 383.0 L811.7 380.7 L811.1 378.3 L810.5 376.1 L809.9 373.8 L809.3 371.6 L808.7 369.3 L808.1 367.1 L807.5 364.8 L806.9 362.6 L806.3 360.4 L805.7 358.2 L805.1 356.0 L804.4 353.9 L803.7 351.6 L803.1 349.3 L802.4 347.1 L801.7 344.8 L801.0 342.6 L800.3 340.4 L799.6 338.2 L798.8 336.0 L798.0 333.8 L797.2 331.6 L796.3 329.3 L795.4 327.1 L794.5 324.8 L793.6 322.5 L792.6 320.3 L791.6 318.1 L790.5 315.9 L789.5 313.7 L788.3 311.7 L787.2 309.7 L786.1 307.7 L784.9 305.7 L783.7 303.8 L782.4 301.9 L781.2 300.1 L779.9 298.3 L778.5 296.6 L777.2 295.0 L775.7 293.2 L774.1 291.5 L772.5 289.8 L770.9 288.3 L769.2 286.8 L767.6 285.4 L766.0 284.0 L764.1 282.6 L762.3 281.3 L760.4 280.1 L758.6 278.9 L756.8 277.8 L754.7 276.3 L752.6 275.0 L750.6 273.6 L748.6 272.2 L746.7 270.8 L744.9 269.5 L743.2 268.1 L741.6 266.6 L740.1 265.0 L738.7 263.3 L737.6 261.6 L736.8 259.8 L736.2 258.0 L735.6 256.2 L735.6 149.0 A40.9 14.5 0 0 1 680.7 142.4 Z" fill="url(#gInt)"/>
<g clip-path="url(#cpWin)">
  <rect x="480" y="599" width="360" height="360" fill="url(#gWater)"/>
  <ellipse cx="725" cy="599" rx="248" ry="88" fill="url(#gSurf)"/>
  <ellipse cx="730" cy="859" rx="250" ry="89" fill="url(#gFloor)"/>
</g>

<!-- pipe right exterior strip -->
<path d="M735.6 149 A40.9 14.5 0 0 0 758.3 136 L758.3 242 C752 248 742 254 735.6 256.2 Z" fill="url(#gPipeR)"/>
<!-- pipe top ellipse interior -->
<ellipse cx="717.4" cy="136" rx="40.9" ry="14.5" fill="url(#gInt)"/>
<rect x="677.8" y="138" width="1.8" height="108" fill="#f0f0f0"/>
<!-- fillet highlights -->
<path d="M738 259.5 C746 256 755 251 761 244" stroke="#e8e9eb" stroke-width="5" fill="none" filter="url(#fb1)"/>
<path d="M674 246 C675 250 677 252 679 253" stroke="#dadbdd" stroke-width="3" fill="none" filter="url(#fb1)"/>

<!-- ghost pipe lines -->
<g fill="none" stroke="#c3c4c8" stroke-width="1.9">
  <path d="M884.8 338 L884.8 748 Q884.8 769.8 863 769.8 L829 769.8"/>
  <path d="M910.8 360 L910.8 767 Q910.8 793.8 884 793.8 L829 793.8"/>
</g>

<!-- mechanism -->
<g fill="none" stroke="#9a9b9e" stroke-linecap="round">
  <path d="M617.8 600 L617.8 801" stroke-width="3.2"/>
  <path d="M626 806.5 L683 789" stroke-width="3.4"/>
  <path d="M701 784.5 L751 769.5" stroke-width="3.4"/>
  <path d="M692 767 L692 778" stroke-width="3.6"/>
  <path d="M689.3 766.2 L694.8 766.2" stroke-width="2.2"/>
  <path d="M692 796 L692 828" stroke-width="4.4"/>
  <path d="M665 875 L514 903" stroke-width="3.2"/>
  <path d="M720 867 L815 940" stroke-width="3.2"/>
</g>
<ellipse cx="617.2" cy="809.6" rx="8" ry="7.6" fill="#c9e2f0" stroke="#9a9b9e" stroke-width="3"/>
<ellipse cx="692" cy="787.4" rx="8.3" ry="7.6" fill="#d2e8f4" stroke="#9a9b9e" stroke-width="3"/>
<!-- cone -->
<path d="M664.8 861.4 L664.8 874.5 A27.75 8.8 0 0 0 720.3 870 L720.3 861.4 Z" fill="url(#gBase)"/>
<path d="M689 828 L695 828 C 703 839, 713 851, 720.3 861.4 A27.75 7.4 0 0 1 664.8 861.4 C 672 851, 681 839, 689 828 Z" fill="url(#gCone)"/>
<path d="M666 862 A27.75 7.4 0 0 0 719 862" fill="none" stroke="#d4dde3" stroke-width="1.6" opacity="0.8"/>
<!-- valve -->
<path d="M759.5 760 A8.5 8.5 0 0 0 759.5 777" fill="none" stroke="#9a9b9e" stroke-width="2.6"/>
<rect x="760.5" y="740" width="6" height="54" fill="#e4edf4" stroke="#9a9b9e" stroke-width="2.4"/>
<rect x="776" y="768.5" width="53" height="26" fill="url(#gStub)"/>
<path d="M829 768.5 L776 768.5 L776 794.5 L829 794.5" fill="none" stroke="#9a9b9e" stroke-width="2.4"/>

<!-- float ball -->
<ellipse cx="617.6" cy="575.2" rx="31.2" ry="28.7" fill="url(#gBall)"/>
<path d="M586.6 578.5 Q617.6 594.5 648.6 579.5 A31.2 28.7 0 0 1 586.6 578.5 Z" fill="url(#gBallB)"/>

<!-- outlines -->
<g fill="none" stroke="#1c1c1c" stroke-linecap="round" stroke-linejoin="round">
  <path d="M675.5 197.2 L673.0 197.5 L670.5 197.8 L668.0 198.2 L665.5 198.5 L663.0 198.8 L660.5 199.1 L658.0 199.4 L655.5 199.8 L653.1 200.1 L650.7 200.5 L648.4 200.9 L645.9 201.3 L643.4 201.8 L641.0 202.3 L638.6 202.7 L636.3 203.2 L634.0 203.8 L631.6 204.3 L629.3 204.9 L627.0 205.6 L624.7 206.2 L622.5 206.9 L620.2 207.7 L618.0 208.4 L615.8 209.2 L613.6 210.0 L611.4 210.9 L609.1 211.8 L606.8 212.7 L604.8 213.5 L602.7 214.4 L600.6 215.2 L598.5 216.1 L596.4 217.1 L594.3 218.0 L592.1 219.0 L590.0 220.0 L587.9 221.1 L585.9 222.2 L583.8 223.3 L581.8 224.4 L579.9 225.6 L577.9 226.7 L576.0 227.9 L574.0 229.2 L572.1 230.4 L570.1 231.7 L568.2 233.1 L566.3 234.5 L564.5 235.9 L562.6 237.3 L560.8 238.9 L559.1 240.4 L557.4 241.9 L555.7 243.6 L554.0 245.2 L552.3 246.9 L550.7 248.7 L549.1 250.4 L547.5 252.2 L545.9 254.0 L544.3 255.8 L542.7 257.7 L541.1 259.5 L539.6 261.4 L538.0 263.2 L536.5 265.2 L534.9 267.2 L533.4 269.1 L531.9 271.2 L530.4 273.2 L528.9 275.2 L527.4 277.3 L526.0 279.3 L524.5 281.3 L523.1 283.3 L521.7 285.2 L520.3 287.2 L518.8 289.2 L517.3 291.3 L515.8 293.3 L514.4 295.3 L512.9 297.3 L511.5 299.3 L510.1 301.3 L508.7 303.2 L507.3 305.2 L506.0 307.1 L504.6 309.0 L503.2 311.0 L501.8 313.1 L500.4 315.0 L499.0 317.0 L497.6 318.9 L496.3 320.9 L495.0 322.8 L493.7 324.8 L492.4 326.7 L491.1 328.8 L489.7 330.9 L488.4 332.9 L487.2 335.0 L485.9 337.1 L484.7 339.1 L483.5 341.2 L482.4 343.3 L481.4 345.3 L480.4 347.3 L479.4 349.4 L478.4 351.4 L477.5 353.4 L476.6 355.5 L475.8 357.5 L475.0 359.6 L474.2 361.9 L473.4 364.3 L472.7 366.7 L472.0 369.1 L471.4 371.4 L470.8 373.9 L470.2 376.3 L469.7 378.4 L469.3 380.6 L468.9 382.7 L468.5 384.9 L468.2 387.1 L467.9 389.3 L467.6 391.5 L467.3 393.7 L467.1 395.9 L466.8 398.2 L466.6 400.4 L466.5 402.6 L466.3 404.9 L466.2 407.1 L466.0 409.4 L465.9 411.7 L465.8 414.0 L465.7 416.3 L465.7 418.6 L465.6 421.0 L465.6 423.3 L465.5 425.7 L465.5 428.0 L465.5 430.4 L465.4 432.8 L465.4 435.2 L465.4 437.7 L465.4 440.1 L465.4 442.6 L465.4 445.1 L465.4 447.5 L465.4 450.0 L465.4 452.2 L465.4 454.4 L465.4 456.7 L465.4 458.9 L465.4 461.1 L465.4 463.3 L465.4 465.6 L465.4 467.8 L465.4 470.0 L465.4 472.2 L465.4 474.4 L465.4 476.7 L465.4 478.9 L465.4 481.1 L465.4 483.3 L465.4 485.6 L465.4 487.8 L465.4 490.0 L465.4 795.0 L465.4 797.5 L465.4 800.0 L465.4 802.5 L465.4 805.0 L465.4 807.5 L465.4 810.0 L465.4 812.4 L465.4 814.9 L465.4 817.4 L465.4 819.8 L465.5 822.3 L465.5 824.7 L465.6 827.2 L465.6 829.6 L465.8 832.0 L465.9 834.4 L466.1 836.6 L466.3 838.9 L466.6 841.1 L466.8 843.3 L467.1 845.5 L467.5 847.7 L467.9 849.8 L468.4 851.9 L468.9 854.1 L469.6 856.3 L470.3 858.4 L471.0 860.6 L471.8 862.6 L472.7 864.6 L473.6 866.6 L474.8 868.8 L476.0 871.0 L477.3 873.0 L478.6 875.1 L480.0 877.1 L481.5 879.0 L483.0 880.9 L484.5 882.7 L486.1 884.4 L487.8 886.1 L489.4 887.8 L491.1 889.4 L492.8 890.8 L494.5 892.3 L496.3 893.6 L498.0 894.9 L499.8 896.2 L501.6 897.4 L503.4 898.5 L505.2 899.6 L507.1 900.6 L508.9 901.6 L510.8 902.6 L512.6 903.6 " stroke-width="3.2"/>
  <path d="M759.7 197.0 L762.0 197.4 L764.2 197.8 L766.5 198.2 L768.7 198.6 L771.0 199.0 L773.2 199.4 L775.5 199.8 L777.7 200.3 L779.9 200.7 L782.4 201.2 L784.8 201.7 L787.2 202.2 L789.6 202.7 L792.0 203.2 L794.4 203.7 L796.7 204.2 L799.0 204.8 L801.3 205.3 L803.7 205.9 L805.9 206.4 L808.2 207.0 L810.4 207.6 L812.6 208.2 L814.8 208.9 L816.8 209.6 L818.8 210.3 L820.8 211.0 L822.7 211.8 L824.7 212.5 L826.7 213.4 L828.8 214.3 L830.8 215.2 L832.8 216.2 L834.9 217.2 L837.1 218.2 L839.2 219.3 L841.4 220.4 L843.5 221.6 L845.7 222.7 L847.8 223.9 L849.9 225.0 L852.0 226.1 L854.1 227.3 L856.2 228.4 L858.4 229.6 L860.5 230.8 L862.6 232.0 L864.6 233.3 L866.6 234.5 L868.5 235.8 L870.5 237.2 L872.4 238.5 L874.2 239.9 L876.0 241.3 L877.8 242.7 L879.6 244.2 L881.3 245.7 L882.9 247.2 L884.6 248.8 L886.2 250.6 L887.8 252.4 L889.3 254.2 L890.8 256.1 L892.2 258.1 L893.7 260.0 L895.1 262.0 L896.5 264.0 L898.0 265.9 L899.5 267.9 L900.9 269.9 L902.4 272.0 L903.8 274.0 L905.3 276.0 L906.7 278.1 L908.2 280.1 L909.7 282.1 L911.2 284.1 L912.6 286.0 L914.1 287.9 L915.7 289.8 L917.2 291.6 L918.7 293.5 L920.3 295.4 L921.8 297.3 L923.3 299.2 L924.9 301.1 L926.3 303.0 L927.8 304.9 L929.3 306.8 L930.8 308.8 L932.4 310.7 L933.8 312.7 L935.3 314.7 L936.8 316.7 L938.2 318.7 L939.6 320.8 L940.9 322.8 L942.2 324.7 L943.5 326.8 L944.8 328.8 L946.0 330.8 L947.3 332.9 L948.5 335.0 L949.6 337.1 L950.8 339.2 L951.9 341.3 L952.9 343.4 L954.0 345.6 L955.1 347.9 L956.1 350.2 L957.1 352.5 L958.1 354.8 L959.0 357.1 L959.9 359.4 L960.7 361.8 L961.5 364.1 L962.2 366.5 L962.9 368.7 L963.4 370.9 L964.0 373.1 L964.5 375.3 L965.0 377.6 L965.4 379.8 L965.8 382.1 L966.2 384.4 L966.6 386.7 L966.9 389.0 L967.2 391.3 L967.5 393.6 L967.8 396.0 L968.0 398.3 L968.2 400.7 L968.3 403.0 L968.5 405.4 L968.6 407.8 L968.7 410.2 L968.8 412.6 L968.9 415.0 L969.0 417.4 L969.1 419.8 L969.1 422.1 L969.2 424.4 L969.2 426.8 L969.2 429.1 L969.3 431.4 L969.3 433.8 L969.3 436.1 L969.3 438.4 L969.2 440.7 L969.2 443.0 L969.2 445.2 L969.2 447.4 L969.2 449.8 L969.2 452.1 L969.2 454.4 L969.2 456.7 L969.1 458.9 L969.1 461.2 L969.1 463.4 L969.1 465.6 L969.1 467.8 L969.0 470.0 L969.0 472.3 L969.0 474.5 L969.0 476.8 L969.0 479.0 L969.0 481.2 L969.0 483.4 L969.0 485.6 L969.0 487.8 L969.0 490.0 L969.0 492.2 L969.0 494.4 L969.0 496.7 L969.0 498.9 L969.0 501.1 L969.0 503.3 L969.0 505.6 L969.0 507.8 L969.0 510.0 L969.0 795.0 L969.0 797.5 L969.0 800.0 L969.1 802.4 L969.1 804.9 L969.1 807.4 L969.1 809.9 L969.1 812.4 L969.0 814.9 L968.9 817.3 L968.8 819.7 L968.7 822.2 L968.6 824.6 L968.5 827.1 L968.3 829.5 L968.0 832.0 L967.7 834.5 L967.2 837.0 L966.7 839.3 L966.2 841.6 L965.7 843.9 L965.0 846.2 L964.4 848.6 L963.6 850.9 L962.8 853.3 L962.0 855.6 L961.0 857.9 L960.0 860.2 L958.8 862.4 L957.6 864.4 L956.4 866.5 L955.1 868.5 L953.7 870.5 L952.2 872.5 L950.7 874.5 L949.1 876.5 L947.5 878.4 L945.8 880.3 L944.0 882.2 L942.2 884.0 L940.3 885.8 L938.4 887.6 L936.7 889.1 L934.9 890.6 L933.0 892.1 L931.1 893.6 L929.1 895.0 L927.1 896.4 L925.1 897.8 L923.0 899.2 L920.8 900.5 L918.7 901.8 L916.5 903.1 L914.4 904.4 L912.2 905.7 L910.0 906.9 L907.8 908.1 L905.7 909.3 L903.5 910.5 L901.4 911.7 L899.2 912.8 L896.9 913.9 L894.7 915.0 L892.4 916.1 L890.1 917.2 L887.9 918.2 L885.6 919.2 L883.3 920.2 L881.0 921.2 L878.7 922.1 L876.5 923.0 L874.3 923.9 L872.1 924.8 L870.0 925.6 L867.9 926.4 L865.8 927.2 L863.4 928.1 L860.9 928.9 L858.5 929.7 L856.2 930.5 L853.9 931.2 L851.6 931.9 L849.3 932.5 L847.2 933.1 L845.0 933.7 L842.9 934.2 L840.9 934.8 L838.4 935.3 L836.1 935.9 L833.8 936.3 L831.6 936.7 L829.4 937.1 L827.2 937.6 L825.0 938.0 " stroke-width="3.2"/>
  <path d="M680.7 142.4 L680.7 249.8 L679.7 251.2 L678.7 252.6 L677.5 253.8 L675.9 254.9 L674.1 255.9 L672.1 256.7 L670.3 257.3 L668.3 257.9 L666.2 258.4 L664.0 258.8 L661.7 259.4 L659.6 259.8 L657.4 260.3 L655.1 260.8 L652.7 261.3 L650.3 261.7 L647.9 262.2 L645.5 262.7 L643.2 263.2 L641.0 263.6 L638.7 264.1 L636.3 264.5 L634.0 265.0 L631.7 265.5 L629.3 265.9 L627.0 266.4 L624.7 266.9 L622.3 267.3 L620.0 267.8 L617.6 268.2 L615.3 268.7 L613.0 269.2 L610.7 269.6 L608.5 270.1 L606.2 270.6 L603.9 271.0 L601.6 271.5 L599.3 272.0 L597.1 272.5 L595.0 273.0 L593.0 273.6 L590.6 274.4 L588.4 275.2 L586.3 276.1 L584.2 277.0 L582.2 278.1 L580.2 279.3 L578.3 280.7 L576.4 282.1 L574.5 283.6 L572.6 285.1 L570.8 286.6 L569.0 288.1 L567.2 289.6 L565.5 291.3 L563.9 293.0 L562.5 294.6 L561.1 296.2 L559.8 297.9 L558.6 299.6 L557.3 301.5 L556.0 303.4 L554.8 305.3 L553.5 307.3 L552.3 309.3 L551.1 311.4 L549.9 313.6 L548.7 315.8 L547.4 318.0 L546.2 320.2 L545.0 322.3 L543.8 324.4 L542.7 326.5 L541.5 328.7 L540.3 330.8 L539.1 333.0 L537.9 335.2 L536.7 337.3 L535.6 339.4 L534.5 341.4 L533.4 343.5 L532.3 345.5 L531.2 347.5 L530.1 349.5 L529.0 351.4 L527.9 353.4 L526.8 355.4 L525.7 357.4 L524.6 359.4 L523.5 361.5 L522.4 363.5 L521.3 365.5 L520.2 367.5 L519.0 369.5 L517.9 371.5 L516.8 373.6 L515.7 375.6 L514.5 377.7 L513.3 379.9 L512.0 382.1 L510.8 384.3 L509.6 386.5 L508.4 388.7 L507.2 390.8 L506.1 392.9 L505.0 395.2 L503.9 397.4 L502.8 399.7 L501.7 401.9 L500.7 404.1 L499.8 406.3 L498.9 408.5 L498.2 410.6 L497.5 412.7 L496.9 414.8 L496.3 416.9 L495.8 419.0 L495.3 421.2 L494.9 423.3 L494.5 425.5 L494.1 427.6 L493.9 429.8 L493.6 432.0 L493.4 434.2 L493.2 436.4 L493.1 438.6 L492.9 441.0 L492.8 443.4 L492.7 445.9 L492.6 448.3 L492.6 450.8 L492.5 453.3 L492.5 455.8 L492.4 458.1 L492.4 460.5 L492.4 462.9 L492.4 465.3 L492.4 467.7 L492.3 470.1 L492.3 472.6 L492.3 475.0 L492.3 477.2 L492.3 479.4 L492.3 481.6 L492.3 483.9 L492.3 486.1 L492.3 488.3 L492.3 490.5 L492.3 492.8 L492.3 495.0 L492.3 497.2 L492.3 499.4 L492.3 501.7 L492.3 503.9 L492.3 506.1 L492.3 508.3 L492.3 510.6 L492.3 512.8 L492.3 515.0 L492.3 845.0 L492.3 847.2 L492.3 849.5 L492.3 851.7 L492.3 854.0 L492.3 856.2 L492.3 858.5 L492.3 860.7 L492.3 862.9 L492.3 865.0 L492.3 867.5 L492.3 870.1 L492.3 872.6 L492.4 875.0 L492.5 877.4 L492.6 879.7 L492.9 881.9 L493.2 884.2 L493.5 886.3 L494.0 888.4 L494.6 890.4 L495.3 892.1 L496.4 893.8 L497.6 895.3 L498.9 896.7 L500.4 897.9 L501.9 899.1 L503.5 900.1 L505.2 901.0 L507.0 901.8 L509.2 902.7 L511.5 903.4 L513.8 904.1 " stroke-width="2.9"/>
  <path d="M735.6 149 L735.6 256.2 L736.2 258.0 L736.8 259.8 L737.6 261.5 L738.7 263.3 L740.1 265.0 L741.6 266.7 L743.2 268.1 L744.9 269.5 L746.7 270.8 L748.6 272.2 L750.6 273.6 L752.6 275.0 L754.7 276.3 L756.8 277.8 L758.6 278.9 L760.4 280.1 L762.3 281.3 L764.1 282.6 L766.0 284.0 L767.6 285.4 L769.2 286.8 L770.9 288.3 L772.5 289.8 L774.1 291.5 L775.7 293.2 L777.2 295.0 L778.5 296.6 L779.9 298.3 L781.2 300.1 L782.4 301.9 L783.7 303.8 L784.9 305.7 L786.1 307.7 L787.2 309.7 L788.3 311.6 L789.5 313.7 L790.5 315.9 L791.6 318.1 L792.6 320.3 L793.6 322.5 L794.5 324.8 L795.4 327.1 L796.3 329.3 L797.2 331.7 L798.0 333.8 L798.8 336.0 L799.6 338.2 L800.3 340.4 L801.0 342.6 L801.7 344.8 L802.4 347.1 L803.1 349.3 L803.7 351.6 L804.4 353.9 L805.1 356.0 L805.7 358.2 L806.3 360.4 L806.9 362.6 L807.5 364.8 L808.1 367.1 L808.7 369.3 L809.3 371.6 L809.9 373.8 L810.5 376.1 L811.1 378.3 L811.7 380.7 L812.3 383.0 L812.9 385.4 L813.5 387.7 L814.1 390.1 L814.7 392.5 L815.3 394.9 L815.9 397.3 L816.4 399.6 L817.0 402.0 L817.5 404.4 L818.0 406.8 L818.6 409.2 L819.1 411.7 L819.6 414.1 L820.1 416.5 L820.6 418.9 L821.0 421.4 L821.5 423.8 L821.9 426.2 L822.4 428.7 L822.8 431.1 L823.2 433.5 L823.6 435.9 L823.9 438.3 L824.3 440.7 L824.6 443.2 L824.9 445.6 L825.3 448.0 L825.6 450.4 L825.9 452.9 L826.1 455.3 L826.4 457.8 L826.6 460.1 L826.9 462.5 L827.1 464.9 L827.3 467.3 L827.5 469.7 L827.6 472.1 L827.8 474.5 L828.0 477.0 L828.1 479.4 L828.3 481.8 L828.4 484.2 L828.5 486.6 L828.6 489.1 L828.8 491.6 L828.9 494.1 L828.9 496.6 L829.0 499.1 L829.1 501.5 L829.2 504.0 L829.2 506.5 L829.3 508.9 L829.3 511.4 L829.4 513.8 L829.4 516.1 L829.5 518.6 L829.5 521.1 L829.5 523.5 L829.5 525.9 L829.6 528.3 L829.6 530.7 L829.6 533.1 L829.6 535.4 L829.6 537.7 L829.6 540.0 L829.6 542.3 L829.6 544.6 L829.6 546.8 L829.6 549.0 L829.6 551.2 L829.6 553.4 L829.6 555.6 L829.6 557.8 L829.6 560.0 L829.6 886.0 L829.6 888.2 L829.6 890.5 L829.6 892.7 L829.6 895.0 L829.6 897.2 L829.6 899.5 L829.6 901.7 L829.6 903.9 L829.6 906.0 L829.6 908.5 L829.6 911.0 L829.6 913.5 L829.6 915.9 L829.5 918.3 L829.5 920.5 L829.3 922.6 L829.1 925.3 L828.9 927.8 L828.6 930.1 L828.0 932.1 L827.2 934.0 L826.2 935.6 L825.0 937.1 L823.6 938.4 L822.0 939.5 L820.4 940.4 L818.6 941.2 L816.8 941.9 L815.0 942.6 " stroke-width="2.9"/>
  <path d="M676.5 136 L676.5 242" stroke-width="2.8"/>
  <path d="M758.3 136 L758.3 242" stroke-width="2.8"/>
  <path d="M680.7 142.4 A40.9 14.5 0 0 1 676.5 136 A40.9 14.5 0 0 1 758.3 136 A40.9 14.5 0 0 1 735.6 149" stroke-width="2.9"/>
</g>

<!-- water pipe -->
<path d="M884.8 221.5 L884.8 330 C886 340, 896 352, 901 357 C905 361, 909 360, 910.5 354 L910.9 221.5 Z" fill="url(#gWP)" stroke="#1c1c1c" stroke-width="2.4"/>
<ellipse cx="897.9" cy="221.5" rx="13" ry="5.3" fill="#dcdcde" stroke="#1c1c1c" stroke-width="2.2"/>

<!-- leader lines -->
<g stroke="#151515" stroke-width="2.8" stroke-linecap="butt" fill="none">
  <path d="M433 473.1 L597.7 572.2"/>
  <path d="M769.4 763.7 L990 896.2"/>
</g>

<!-- arrows -->
<path d="M893.6 104.7 L901.8 104.7 L901.8 174.7 L912.9 174.7 L897.7 204.6 L881 174.7 L893.6 174.7 Z" fill="#1c1a1a"/>
<path d="M712 390.8 L720 390.8 L720 320 L732.5 320 L715.8 290 L699.1 320 L712 320 Z" fill="#1c1a1a"/>

<!-- labels -->
<text class="lbl" x="834.5" y="87" font-size="48.5" textLength="127.5" lengthAdjust="spacingAndGlyphs">Water</text>
<text class="lbl" x="650.3" y="440.8" font-size="48.5" textLength="129.5" lengthAdjust="spacingAndGlyphs">Steam</text>
<text class="lbl" x="315" y="471.5" font-size="48.5" textLength="108" lengthAdjust="spacingAndGlyphs">Float</text>
<text class="lbl" x="1001" y="928" font-size="48.5" textLength="125" lengthAdjust="spacingAndGlyphs">Valve</text>

<text class="cap" x="644.5" y="984" font-size="23.5" textLength="152.4" lengthAdjust="spacingAndGlyphs">Figure: 01-06</text>
<text class="cap" x="468.6" y="1031.1" font-size="23" textLength="503.7" lengthAdjust="spacingAndGlyphs">Copyright © 2008 Pearson Prentice Hall, Inc.</text>

<rect x="0" y="1080" width="1441" height="1" fill="#000"/>
</svg>
</body></html>
